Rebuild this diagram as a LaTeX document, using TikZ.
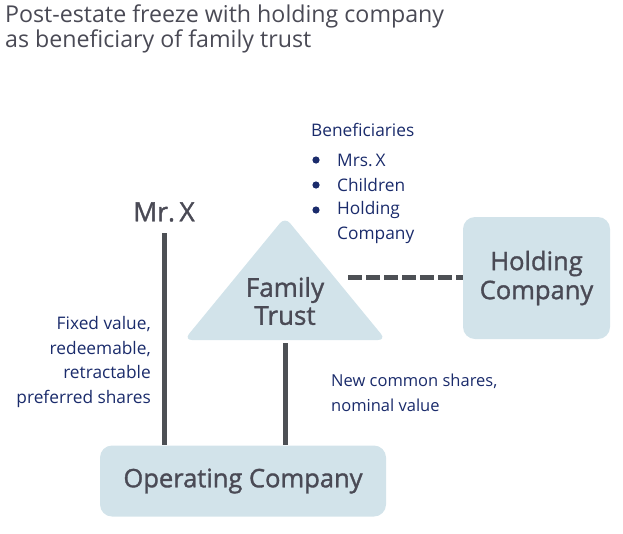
\documentclass[tikz,border=0pt]{standalone}
\usepackage{fontspec}
\setmainfont{Open Sans}
\newfontfamily\semib[FakeBold=1.3]{Open Sans}
\usetikzlibrary{shapes.geometric}
\definecolor{boxblue}{HTML}{D2E3EA}
\definecolor{linegray}{HTML}{4D5055}
\definecolor{txtgray}{HTML}{4A4A55}
\definecolor{navy}{HTML}{1A2B6B}
\tikzset{
  conn/.style={draw=linegray,line width=5pt},
  entity/.style={fill=boxblue,rounded corners=12pt,text=txtgray,font=\semib\fontsize{25.5}{29}\selectfont,align=center},
  lbl/.style={text=navy,font=\fontsize{17.3}{24.7}\selectfont,inner sep=0pt},
}
\begin{document}
\begin{tikzpicture}[x=1pt,y=-1pt]
\useasboundingbox (0,0) rectangle (623,533);
% title
\node[anchor=north west,inner sep=0pt,text=txtgray,align=left,font=\fontsize{23.2}{25}\selectfont] (title) at (5,5) {Post-estate freeze with holding company\\as beneficiary of family trust};
% triangle
\fill[boxblue,rounded corners=8pt] (184,340) -- (285,217) -- (386,340) -- cycle;
\node[text=txtgray,font=\semib\fontsize{26}{28}\selectfont,align=center,inner sep=0pt] (ft) at (285,301) {Family\\Trust};
\coordinate (ftbot) at (285,343);
\coordinate (ftright) at (348,277);
% holding company
\node[entity,minimum width=147pt,minimum height=122pt] (hc) at (536.5,278) {Holding\\Company};
% operating company
\node[entity,minimum width=286pt,minimum height=71pt] (oc) at (243,481) {Operating Company};
% Mr X
\node[text=txtgray,font=\semib\fontsize{26.5}{24}\selectfont,inner sep=0pt] (mrx) at (164,212) {Mr.\,X};
\coordinate (mrxbot) at (164,233);
% connectors
\draw[conn] (mrxbot) -- (oc.north -| mrxbot);
\draw[conn] (ftbot) -- (oc.north -| ftbot);
\draw[conn,dash pattern=on 14pt off 4pt] (ftright) -- (hc.west |- ftright);
% labels
\node[lbl,anchor=east,align=right] (pref) at (151,362) {Fixed value,\\redeemable,\\retractable\\preferred shares};
\node[lbl,anchor=west,align=left,font=\fontsize{16.5}{24.5}\selectfont] (ncs) at (331,393) {New common shares,\\nominal value};
\node[lbl,anchor=west] (ben) at (311,130) {Beneficiaries};
\foreach \y/\t [count=\i] in {160/Mrs.\,X,185/Children,210/Holding} {
  \fill[navy] (316,\y) circle (3.6pt);
  \node[lbl,anchor=west] (b\i) at (337,\y) {\t};
}
\node[lbl,anchor=west] (b4) at (337,235) {Company};
\end{tikzpicture}
\end{document}
